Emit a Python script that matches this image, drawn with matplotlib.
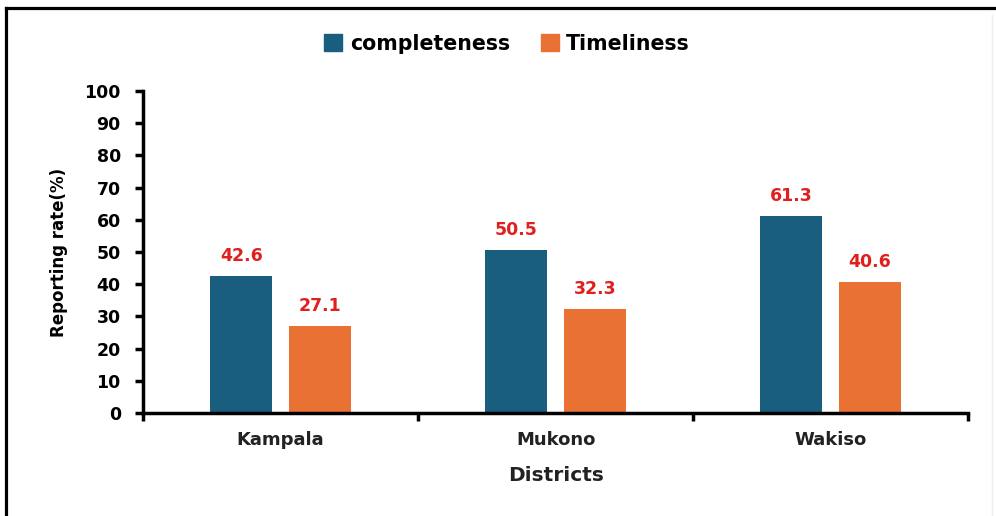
import numpy as np
import matplotlib.pyplot as plt
from matplotlib.lines import Line2D
from matplotlib.patches import Patch

districts = ['Kampala', 'Mukono', 'Wakiso']
completeness = [42.6, 50.5, 61.3]
timeliness = [27.1, 32.3, 40.6]
yticks = [0, 10, 20, 30, 40, 50, 60, 70, 80, 90, 100]

blue = '#1a5e7f'
orange = '#e87133'
red = '#e0201f'

plt.rcParams['font.family'] = ['DejaVu Sans']
plt.rcParams['font.weight'] = 'bold'

fig = plt.figure(figsize=(9.96, 5.16), dpi=100)
ax = fig.add_axes([0.1436, 0.1996, 0.8284, 0.624])

x = np.arange(len(districts))
w = 0.225
off = 0.143
b1 = ax.bar(x - off, completeness, w, color=blue)
b2 = ax.bar(x + off, timeliness, w, color=orange)

for bars, vals in ((b1, completeness), (b2, timeliness)):
    for b, v in zip(bars, vals):
        ax.annotate('%.1f' % v, (b.get_x() + b.get_width() / 2, v),
                    xytext=(0, 8), textcoords='offset points',
                    ha='center', va='bottom', color=red,
                    fontsize=12.5, fontweight='bold')

ax.set_xlim(-0.5, 2.5)
ax.set_ylim(0, 100)
ax.set_yticks(yticks)
ax.set_yticklabels([str(t) for t in yticks], fontsize=12.5, fontweight='bold')

# group separators as major ticks, names on minor ticks
ax.set_xticks([-0.5, 0.5, 1.5, 2.5])
ax.set_xticklabels([])
ax.set_xticks(x, minor=True)
ax.set_xticklabels(districts, minor=True, fontsize=13,
                   fontweight='bold', color='#222222')
ax.tick_params(axis='x', which='minor', length=0, pad=13)
ax.tick_params(axis='x', which='major', length=6, width=2.5, direction='out')
ax.tick_params(axis='y', length=6, width=2.5, direction='out', pad=10)

for s in ('top', 'right'):
    ax.spines[s].set_visible(False)
for s in ('left', 'bottom'):
    ax.spines[s].set_linewidth(2.5)

ax.set_xlabel('Districts', fontsize=14.5, fontweight='bold',
              color='#222222', labelpad=12)
ax.set_ylabel('Reporting rate(%)', fontsize=12, fontweight='bold',
              labelpad=12)

handles = [Patch(color=blue), Patch(color=orange)]
fig.legend(handles, ['completeness', 'Timeliness'], loc='center',
           bbox_to_anchor=(507 / 996, 1 - 44 / 516), ncol=2, frameon=False,
           prop={'weight': 'bold', 'size': 14.8},
           handlelength=0.9, handleheight=0.9, handletextpad=0.35,
           columnspacing=1.5)

# frame lines on top and left
fig.add_artist(Line2D([5.5 / 996, 1], [1 - 8 / 516, 1 - 8 / 516],
                      color='black', lw=2.3, transform=fig.transFigure))
fig.add_artist(Line2D([5.5 / 996, 5.5 / 996], [0, 1 - 8 / 516],
                      color='black', lw=2.3, transform=fig.transFigure))
fig.add_artist(Line2D([992 / 996, 992 / 996], [0, 1 - 15 / 516],
                      color='#eeeeee', lw=1, transform=fig.transFigure))

fig.savefig('out.png', dpi=100)
